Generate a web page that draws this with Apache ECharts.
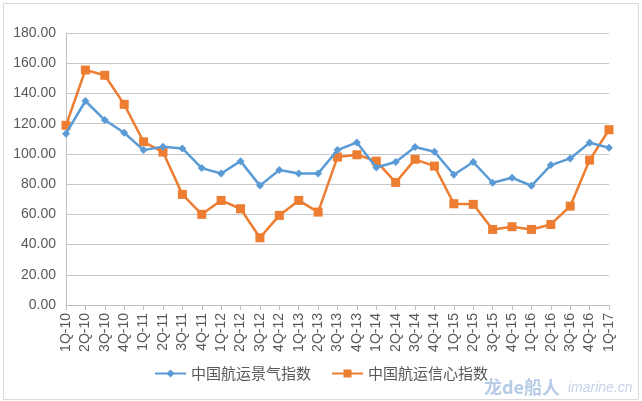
<!DOCTYPE html>
<html>
<head>
<meta charset="utf-8">
<script src="https://cdn.jsdelivr.net/npm/echarts@6/dist/echarts.min.js"></script>
<style>html,body{margin:0;padding:0;background:#fff;}#c{width:642px;height:401px;}</style>
</head>
<body>
<div id="c"></div>
<script>
var categories = ['1Q-10','2Q-10','3Q-10','4Q-10','1Q-11','2Q-11','3Q-11','4Q-11','1Q-12','2Q-12','3Q-12','4Q-12','1Q-13','2Q-13','3Q-13','4Q-13','1Q-14','2Q-14','3Q-14','4Q-14','1Q-15','2Q-15','3Q-15','4Q-15','1Q-16','2Q-16','3Q-16','4Q-16','1Q-17'];
var prosperity = [113.4,135.0,122.4,114.0,102.5,104.8,103.6,90.6,87.0,95.2,79.0,89.3,87.0,87.0,102.5,107.6,91.0,94.6,104.5,101.4,86.2,94.6,80.9,84.2,78.9,92.6,97.0,107.4,104.1];
var confidence = [118.9,155.5,152.0,132.8,108.0,101.2,73.2,60.0,69.2,63.7,44.5,59.3,69.2,61.5,97.9,99.4,95.2,81.1,96.4,91.9,67.0,66.6,50.0,51.8,50.0,53.3,65.4,95.9,116.0];
var seriesNames = ['中国航运景气指数','中国航运信心指数'];

var chart = echarts.init(document.getElementById('c'), null, {renderer:'canvas'});
chart.setOption({
  animation: false,
  backgroundColor: '#fff',
  textStyle: {fontFamily: 'Liberation Sans, Arial, sans-serif'},
  graphic: [
    {type:'rect', shape:{x:3.5,y:3.5,width:635,height:396}, style:{fill:'none', stroke:'#d9d9d9', lineWidth:1}, silent:true, z:-1},
    {type:'text', left:484, top:378, style:{text:'龙de船人', fill:'rgba(120,160,210,0.55)', font:'bold 18px "Noto Sans CJK SC", sans-serif'}, silent:true, z:10},
    {type:'text', left:568, top:381, style:{text:'imarine.cn', fill:'rgba(150,175,215,0.55)', font:'italic 14px "Liberation Sans", sans-serif'}, silent:true, z:10}
  ],
  grid: {left:66, right:33, top:33, bottom:96, containLabel:false},
  legend: {
    data: seriesNames,
    left: 'center',
    top: 361,
    itemWidth: 31,
    itemHeight: 10,
    itemGap: 20,
    textStyle: {color:'#595959', fontSize:15, fontFamily:'"Noto Sans CJK SC", sans-serif'}
  },
  xAxis: {
    type: 'category',
    data: categories,
    boundaryGap: false,
    axisLine: {lineStyle:{color:'#bfbfbf', width:1}},
    axisTick: {show:true, length:5, lineStyle:{color:'#bfbfbf'}},
    axisLabel: {rotate:90, interval:0, margin:8, color:'#595959', fontSize:14}
  },
  yAxis: {
    type: 'value',
    min: 0, max: 180, interval: 20,
    axisLine: {show:true, lineStyle:{color:'#bfbfbf', width:1}},
    axisTick: {show:false},
    axisLabel: {color:'#595959', fontSize:14, margin:10, formatter:function(v){return v.toFixed(2);}},
    splitLine: {lineStyle:{color:'#c8c8c8', width:1}}
  },
  series: [
    {name: seriesNames[0], type:'line', data: prosperity, symbol:'diamond', symbolSize:8,
     lineStyle:{color:'#5B9BD5', width:2.5}, itemStyle:{color:'#5B9BD5'}, z:3},
    {name: seriesNames[1], type:'line', data: confidence, symbol:'rect', symbolSize:9,
     lineStyle:{color:'#ED7D31', width:2.5}, itemStyle:{color:'#ED7D31'}, z:2}
  ]
});
</script>
</body>
</html>
